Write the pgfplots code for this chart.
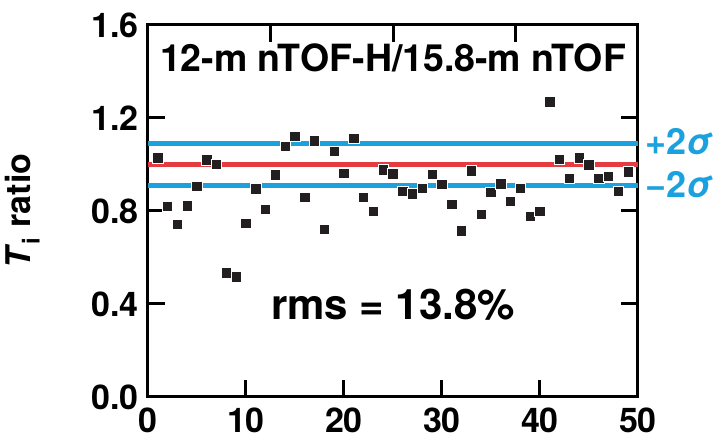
\documentclass[border=0pt]{standalone}
\usepackage{pgfplots}
\pgfplotsset{compat=1.18}
\usepackage{fontspec}
\setmainfont{TeX Gyre Heros}
\definecolor{sigblue}{RGB}{27,161,222}
\definecolor{meanred}{RGB}{228,60,64}
\definecolor{mk}{RGB}{35,31,32}
\begin{document}
\begin{tikzpicture}
\useasboundingbox (-148pt,-44pt) rectangle (573pt,397pt);
\begin{axis}[
  scale only axis, width=490pt, height=372pt,
  xmin=0, xmax=50, ymin=0, ymax=1.6,
  xtick={0,10,20,30,40,50}, ytick={0,0.4,0.8,1.2,1.6},
  xtick pos=bottom, ytick pos=both,
  tick align=inside,
  major tick length=17pt,
  axis line style={line width=3pt},
  every tick/.style={black, line width=3pt},
  ticklabel style={font=\fontsize{34}{38}\selectfont\bfseries},
  yticklabel style={xshift=-6pt, /pgf/number format/.cd, fixed, fixed zerofill, precision=1, assume math mode=true},
  xticklabel style={yshift=-7pt, /pgf/number format/assume math mode=true},
  ylabel={\textit{T}\textsubscript{i} ratio},
  ylabel style={font=\fontsize{34}{38}\selectfont\bfseries, at={(axis description cs:-0.214,0.5)}, anchor=south},
  clip=false,
]
\addplot[sigblue, line width=5pt] coordinates {(0,1.09) (50,1.09)};
\addplot[sigblue, line width=5pt] coordinates {(0,0.91) (50,0.91)};
\addplot[meanred, line width=5pt] coordinates {(0,1.0) (50,1.0)};
\addplot[only marks, mark=square*, mark size=5.2pt, mark options={fill=mk, draw=white, line width=0.9pt}] table {
1 1.028
2 0.819
3 0.743
4 0.821
5 0.905
6 1.019
7 0.999
8 0.533
9 0.517
10 0.747
11 0.895
12 0.806
13 0.955
14 1.077
15 1.120
16 0.857
17 1.102
18 0.721
19 1.057
20 0.962
21 1.111
22 0.857
23 0.797
24 0.976
25 0.959
26 0.885
27 0.873
28 0.897
29 0.958
30 0.915
31 0.827
32 0.714
33 0.972
34 0.786
35 0.879
36 0.916
37 0.840
38 0.896
39 0.776
40 0.799
41 1.269
42 1.022
43 0.939
44 1.029
45 0.998
46 0.939
47 0.949
48 0.885
49 0.968
};
\node[font=\fontsize{37.5}{42}\selectfont\bfseries] at (axis cs:25,1.458) {12-m nTOF-H/15.8-m nTOF};
\node[font=\fontsize{42}{48}\selectfont\bfseries] at (axis cs:25,0.396) {rms = 13.8\%};
\node[anchor=west, text=sigblue, font=\fontsize{36}{40}\selectfont\bfseries, xshift=4pt] at (axis cs:50,1.097) {+2\textit{σ}};
\node[anchor=west, text=sigblue, font=\fontsize{36}{40}\selectfont\bfseries, xshift=4pt] at (axis cs:50,0.912) {−2\textit{σ}};
\end{axis}
\begin{axis}[
  scale only axis, width=490pt, height=372pt,
  xmin=0, xmax=50, ymin=0, ymax=1.6,
  axis x line*=top, axis y line=none,
  xtick={12.5,25,37.5}, xticklabels={},
  tick align=inside, major tick length=17pt,
  every tick/.style={black, line width=3pt},
  axis line style={draw=none},
]
\end{axis}
\end{tikzpicture}
\end{document}
